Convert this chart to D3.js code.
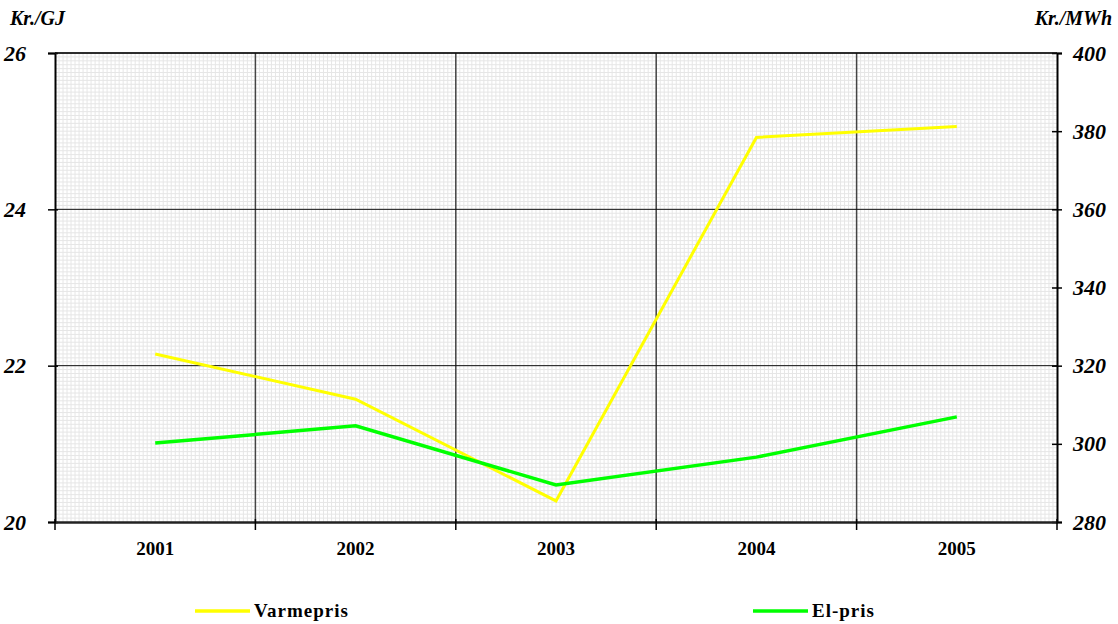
<!DOCTYPE html>
<html><head><meta charset="utf-8">
<script src="https://cdn.jsdelivr.net/npm/d3@7"></script>
<style>body{margin:0;background:#fff}svg{display:block}</style>
</head><body>
<svg id="c" width="1118" height="624"></svg>
<script>
const years = ["2001","2002","2003","2004","2005"];
const varmepris = [22.15, 21.57, 20.27, 24.92, 25.06];   // Kr./GJ (left)
const elpris = [300.2, 304.6, 289.5, 296.6, 306.9];      // Kr./MWh (right)
const leftTicks = [20, 22, 24, 26];
const rightTicks = [280, 300, 320, 340, 360, 380, 400];

const svg = d3.select("#c");
const L = 55, R = 1057, T = 53, B = 522;
const x = d3.scaleBand().domain(years).range([L, R]).padding(0);
const yL = d3.scaleLinear().domain([20, 26]).range([B, T]);
const yR = d3.scaleLinear().domain([280, 400]).range([B, T]);
const FONT = '"Liberation Serif"';
function txt(sel, size, italic) {
  sel.style("font-family", FONT).style("font-weight", "bold")
     .style("font-style", italic ? "italic" : "normal")
     .style("font-size", size + "px").style("fill", "#000");
}

// minor grid
const g = svg.append("g");
const xMinor = d3.scaleLinear().domain([0, 250]).range([L, R]);
d3.range(1, 250).forEach(i => {
  g.append("line").attr("x1", xMinor(i)).attr("x2", xMinor(i)).attr("y1", T).attr("y2", B)
   .attr("stroke", "#e6e6e6").attr("stroke-width", 1);
});
d3.range(1, 120).forEach(i => {
  const v = 20 + i * 0.05;
  g.append("line").attr("x1", L).attr("x2", R).attr("y1", yL(v)).attr("y2", yL(v))
   .attr("stroke", "#e6e6e6").attr("stroke-width", 1);
});
// major vertical
years.slice(1).forEach(yr => {
  g.append("line").attr("x1", x(yr)).attr("x2", x(yr)).attr("y1", T).attr("y2", B)
   .attr("stroke", "#444").attr("stroke-width", 1.5);
});
// major horizontal
leftTicks.slice(1).forEach(v => {
  g.append("line").attr("x1", L).attr("x2", R).attr("y1", yL(v)).attr("y2", yL(v))
   .attr("stroke", "#111").attr("stroke-width", 1);
});

// axes
const axL = svg.append("g").attr("transform", `translate(${L},0)`)
  .call(d3.axisLeft(yL).tickValues(leftTicks).tickFormat(d3.format("d")).tickSize(7).tickPadding(22));
const axR = svg.append("g").attr("transform", `translate(${R},0)`)
  .call(d3.axisRight(yR).tickValues(rightTicks).tickFormat(d3.format("d")).tickSize(5).tickPadding(11));
[axL, axR].forEach(a => {
  a.select(".domain").attr("stroke", "#000").attr("stroke-width", 2);
  a.selectAll(".tick line").attr("stroke", "#000").attr("stroke-width", 1.5);
  txt(a.selectAll("text"), 22, true);
});
axL.selectAll(".tick line").attr("x2", 3).attr("x1", -7);
axR.selectAll(".tick line").attr("x1", -5).attr("x2", 5);

// top border
svg.append("line").attr("x1", L).attr("x2", R).attr("y1", T).attr("y2", T).attr("stroke", "#111").attr("stroke-width", 1.5);

// bottom axis
const axB = svg.append("g").attr("transform", `translate(0,${B})`)
  .call(d3.axisBottom(x).tickSize(0).tickPadding(20));
axB.select(".domain").attr("stroke", "#222").attr("stroke-width", 2.5);
txt(axB.selectAll("text"), 19, false);
const bounds = years.map(yr => x(yr)).concat([R]);
bounds.forEach(bx => {
  svg.append("line").attr("x1", bx).attr("x2", bx).attr("y1", B - 3).attr("y2", B + 8)
    .attr("stroke", "#000").attr("stroke-width", 1.5);
});

// axis titles
txt(svg.append("text").attr("x", 10).attr("y", 25).text("Kr./GJ"), 20, true);
txt(svg.append("text").attr("x", 1112).attr("y", 25).attr("text-anchor", "end").text("Kr./MWh"), 20, true);

// lines
const cx = d => x(d) + x.bandwidth() / 2;
svg.append("path").datum(varmepris)
  .attr("d", d3.line().x((d, i) => cx(years[i])).y(d => yL(d)))
  .attr("fill", "none").attr("stroke", "#FFFF00").attr("stroke-width", 3);
svg.append("path").datum(elpris)
  .attr("d", d3.line().x((d, i) => cx(years[i])).y(d => yR(d)))
  .attr("fill", "none").attr("stroke", "#00FF00").attr("stroke-width", 3.5);

// legend
const leg = [
  {name: "Varmepris", color: "#FFFF00", x0: 195},
  {name: "El-pris", color: "#00FF00", x0: 753}
];
leg.forEach(l => {
  svg.append("line").attr("x1", l.x0).attr("x2", l.x0 + 55).attr("y1", 611).attr("y2", 611)
    .attr("stroke", l.color).attr("stroke-width", 3.5);
  txt(svg.append("text").attr("x", l.x0 + 59).attr("y", 617).text(l.name).attr("letter-spacing", 1), 19, false);
});
</script>
</body></html>
